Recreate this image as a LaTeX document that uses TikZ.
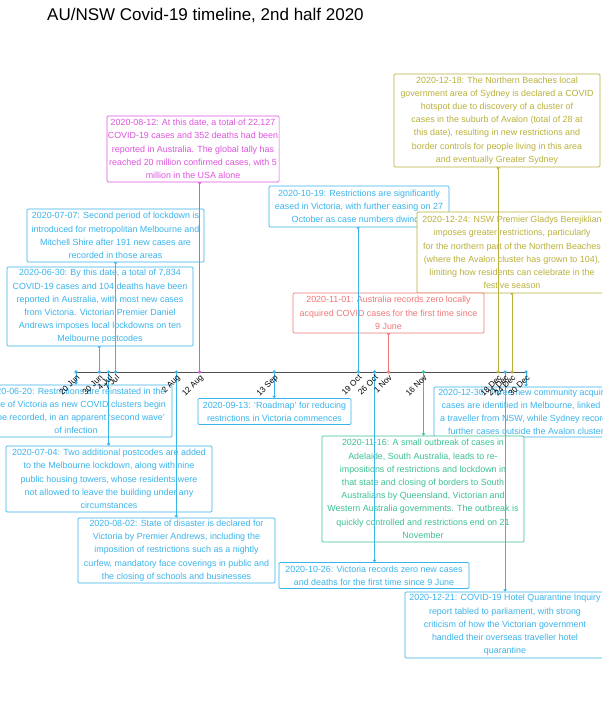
\documentclass[tikz,border=0pt]{standalone}
\usepackage{fontspec}
\setmainfont{Liberation Sans}
\usetikzlibrary{arrows.meta}
\definecolor{blueC}{HTML}{3BB4EC}
\definecolor{magC}{HTML}{DD55DD}
\definecolor{oliveC}{HTML}{BAB13C}
\definecolor{redC}{HTML}{F07878}
\definecolor{greenC}{HTML}{3DC290}
\definecolor{axisC}{HTML}{505050}
\tikzset{
  evbox/.style={draw=#1, text=#1, fill=white, rounded corners=1.2pt, line width=0.7pt,
    align=center, inner sep=1pt, font=\fontsize{8.9}{13.2}\selectfont},
  upconn/.style={draw=#1, line width=0.9pt, -{Triangle[width=3.5pt,length=2.2pt,reversed]}},
  downconn/.style={draw=#1, line width=0.9pt, -{Triangle[width=3.5pt,length=2.2pt]}},
  tlabel/.style={rotate=45, anchor=north east, inner sep=0pt, text=black,
    font=\fontsize{8.2}{9}\selectfont},
  titletext/.style={anchor=base west, inner sep=0pt, font=\fontsize{17}{20}\selectfont}
}
\begin{document}
\begin{tikzpicture}[x=1pt,y=-1pt]
\useasboundingbox (0,0) rectangle (602,719);
\clip (0,0) rectangle (602,719);
\fill[white] (0,0) rectangle (602,719);

\node[titletext] (title) at (47,21) {AU/NSW Covid-19 timeline, 2nd half 2020};

% date coordinates on the axis
\coordinate (d0620) at (76,372);
\coordinate (d0630) at (99.3,372);
\coordinate (d0704) at (108.6,372);
\coordinate (d0707) at (115.6,372);
\coordinate (d0802) at (176.3,372);
\coordinate (d0812) at (199.6,372);
\coordinate (d0913) at (274.2,372);
\coordinate (d1019) at (358.2,372);
\coordinate (d1026) at (374.5,372);
\coordinate (d1101) at (388.5,372);
\coordinate (d1116) at (423.5,372);
\coordinate (d1218) at (498.1,372);
\coordinate (d1221) at (505.1,372);
\coordinate (d1224) at (512.1,372);
\coordinate (d1230) at (526.1,372);

% upper boxes
\node[evbox=magC, minimum width=170, minimum height=66] (e0812) at (193,149)
 {2020-08-12: At this date, a total of 22,127\\COVID-19 cases and 352 deaths had been\\reported in Australia. The global tally has\\reached 20 million confirmed cases, with 5\\million in the USA alone};
\node[evbox=oliveC, minimum width=206, minimum height=93] (e1218) at (497,120.5)
 {2020-12-18: The Northern Beaches local\\government area of Sydney is declared a COVID\\hotspot due to discovery of a cluster of\\cases in the suburb of Avalon (total of 28 at\\this date), resulting in new restrictions and\\border controls for people living in this area\\and eventually Greater Sydney};
\node[evbox=blueC, minimum width=177, minimum height=53] (e0707) at (115.5,235.5)
 {2020-07-07: Second period of lockdown is\\introduced for metropolitan Melbourne and\\Mitchell Shire after 191 new cases are\\recorded in those areas};
\node[evbox=blueC, minimum width=186, minimum height=79] (e0630) at (100,306.5)
 {2020-06-30: By this date, a total of 7,834\\COVID-19 cases and 104 deaths have been\\reported in Australia, with most new cases\\from Victoria. Victorian Premier Daniel\\Andrews imposes local lockdowns on ten\\Melbourne postcodes};
\node[evbox=blueC, minimum width=180, minimum height=41] (e1019) at (359,206.5)
 {2020-10-19: Restrictions are significantly\\eased in Victoria, with further easing on 27\\October as case numbers dwindle};
\node[evbox=oliveC, minimum width=190, minimum height=81] (e1224) at (512,252.5)
 {2020-12-24: NSW Premier Gladys Berejiklian\\imposes greater restrictions, particularly\\for the northern part of the Northern Beaches\\(where the Avalon cluster has grown to 104),\\limiting how residents can celebrate in the\\festive season};
\node[evbox=redC, minimum width=191, minimum height=40] (e1101) at (388.5,313)
 {2020-11-01: Australia records zero locally\\acquired COVID cases for the first time since\\9 June};

% lower boxes
\node[evbox=blueC, minimum width=192, minimum height=52] (e0620) at (76,411)
 {2020-06-20: Restrictions are reinstated in the\\state of Victoria as new COVID clusters begin\\to be recorded, in an apparent ‘second wave’\\of infection};
\node[evbox=blueC, minimum width=153, minimum height=26] (e0913) at (274.5,411.5)
 {2020-09-13: ‘Roadmap’ for reducing\\restrictions in Victoria commences};
\node[evbox=blueC, minimum width=184, minimum height=50] (e1230) at (526,412)
 {2020-12-30: Three new community acquired\\cases are identified in Melbourne, linked to\\a traveller from NSW, while Sydney records\\further cases outside the Avalon cluster};
\node[evbox=blueC, minimum width=206, minimum height=66] (e0704) at (109,479)
 {2020-07-04: Two additional postcodes are added\\to the Melbourne lockdown, along with nine\\public housing towers, whose residents were\\not allowed to leave the building under any\\circumstances};
\node[evbox=blueC, minimum width=197, minimum height=65] (e0802) at (176.5,550.5)
 {2020-08-02: State of disaster is declared for\\Victoria by Premier Andrews, including the\\imposition of restrictions such as a nightly\\curfew, mandatory face coverings in public and\\the closing of schools and businesses};
\node[evbox=greenC, minimum width=202, minimum height=106] (e1116) at (423,489)
 {2020-11-16: A small outbreak of cases in\\Adelaide, South Australia, leads to re-\\impositions of restrictions and lockdown in\\that state and closing of borders to South\\Australians by Queensland, Victorian and\\Western Australia governments. The outbreak is\\quickly controlled and restrictions end on 21\\November};
\node[evbox=blueC, minimum width=190, minimum height=26] (e1026) at (374,575.5)
 {2020-10-26: Victoria records zero new cases\\and deaths for the first time since 9 June};
\node[evbox=blueC, minimum width=200, minimum height=66] (e1221) at (505,625)
 {2020-12-21: COVID-19 Hotel Quarantine Inquiry\\report tabled to parliament, with strong\\criticism of how the Victorian government\\handled their overseas traveller hotel\\quarantine};

% axis
\draw[axisC, line width=0.8pt] (d0620) -- (d1230);

% connectors to upper boxes
\draw[upconn=magC] (d0812) -- (e0812.south -| d0812);
\draw[upconn=oliveC] (d1218) -- (e1218.south -| d1218);
\draw[upconn=blueC] (d0707) -- (e0707.south -| d0707);
\draw[upconn=blueC] (d0630) -- (e0630.south -| d0630);
\draw[upconn=blueC] (d1019) -- (e1019.south -| d1019);
\draw[upconn=oliveC] (d1224) -- (e1224.south -| d1224);
\draw[upconn=redC] (d1101) -- (e1101.south -| d1101);

% connectors to lower boxes
\draw[downconn=blueC] (d0620) -- (e0620.north -| d0620);
\draw[downconn=blueC] (d0913) -- (e0913.north -| d0913);
\draw[downconn=blueC] (d1230) -- (e1230.north -| d1230);
\draw[downconn=blueC] (d0704) -- (e0704.north -| d0704);
\draw[downconn=blueC] (d0802) -- (e0802.north -| d0802);
\draw[downconn=greenC] (d1116) -- (e1116.north -| d1116);
\draw[downconn=blueC] (d1026) -- (e1026.north -| d1026);
\draw[downconn=blueC] (d1221) -- (e1221.north -| d1221);

% dots
\foreach \d in {d0620,d0630,d0704,d0707,d0802,d0913,d1019,d1026,d1221,d1230}
  \fill[blueC] (\d) circle (1.8);
\fill[magC] (d0812) circle (1.8);
\fill[redC] (d1101) circle (1.8);
\fill[greenC] (d1116) circle (1.8);
\fill[oliveC] (d1218) circle (1.8);
\fill[oliveC] (d1224) circle (1.8);

% tick labels
\node[tlabel] (t0620) at ([yshift=-2pt]d0620) {20 Jun};
\node[tlabel] (t0630) at ([yshift=-2pt]d0630) {30 Jun};
\node[tlabel] (t0704) at ([yshift=-2pt]d0704) {4 Jul};
\node[tlabel] (t0707) at ([yshift=-2pt]d0707) {7 Jul};
\node[tlabel] (t0802) at ([yshift=-2pt]d0802) {2 Aug};
\node[tlabel] (t0812) at ([yshift=-2pt]d0812) {12 Aug};
\node[tlabel] (t0913) at ([yshift=-2pt]d0913) {13 Sep};
\node[tlabel] (t1019) at ([yshift=-2pt]d1019) {19 Oct};
\node[tlabel] (t1026) at ([yshift=-2pt]d1026) {26 Oct};
\node[tlabel] (t1101) at ([yshift=-2pt]d1101) {1 Nov};
\node[tlabel] (t1116) at ([yshift=-2pt]d1116) {16 Nov};
\node[tlabel] (t1218) at ([yshift=-2pt]d1218) {18 Dec};
\node[tlabel] (t1221) at ([yshift=-2pt]d1221) {21 Dec};
\node[tlabel] (t1224) at ([yshift=-2pt]d1224) {24 Dec};
\node[tlabel] (t1230) at ([yshift=-2pt]d1230) {30 Dec};
\end{tikzpicture}
\end{document}
